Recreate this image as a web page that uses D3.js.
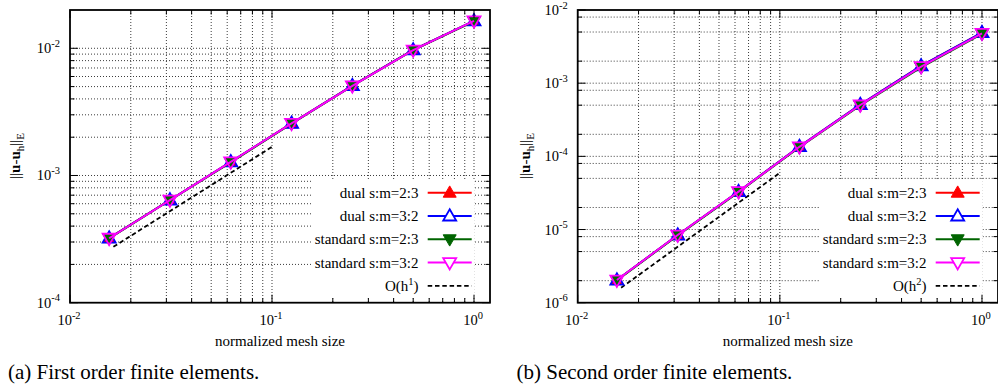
<!DOCTYPE html>
<html>
<head>
<meta charset="utf-8">
<script src="https://cdn.jsdelivr.net/npm/d3@7/dist/d3.min.js"></script>
<style>
  html, body { margin: 0; padding: 0; background: #fff; }
  svg { display: block; }
  text { font-family: "Liberation Serif", "Times New Roman", serif; fill: #000; }
</style>
</head>
<body>
<svg id="chart" width="998" height="388"></svg>
<script>
// ---------------- data ----------------
const meshSizes = [1/64, 1/32, 1/16, 1/8, 1/4, 1/2, 1];
const seriesNames = ["dual s:m=2:3", "dual s:m=3:2", "standard s:m=2:3", "standard s:m=3:2"];
const seriesColors = ["#ff0000", "#0000ff", "#006400", "#ff00ff"];
const seriesMarkers = ["upFilled", "upOpen", "downFilled", "downOpen"];

// (a) first order
const firstDual23     = [3.22e-4, 6.42e-4, 1.28e-3, 2.57e-3, 5.08e-3, 9.70e-3, 1.64e-2];
const firstDual32     = [3.22e-4, 6.42e-4, 1.28e-3, 2.57e-3, 5.08e-3, 9.70e-3, 1.64e-2];
const firstStandard23 = [3.20e-4, 6.40e-4, 1.27e-3, 2.56e-3, 5.06e-3, 9.66e-3, 1.63e-2];
const firstStandard32 = [3.21e-4, 6.41e-4, 1.28e-3, 2.57e-3, 5.07e-3, 9.68e-3, 1.64e-2];
const firstRefH   = [0.0164, 0.1];
const firstRefVal = [2.75e-4, 1.68e-3];

// (b) second order
const secondDual23     = [2.04e-6, 8.40e-6, 3.29e-5, 1.36e-4, 5.10e-4, 1.72e-3, 4.90e-3];
const secondDual32     = [2.04e-6, 8.40e-6, 3.29e-5, 1.36e-4, 5.10e-4, 1.72e-3, 4.90e-3];
const secondStandard23 = [2.02e-6, 8.30e-6, 3.25e-5, 1.33e-4, 4.95e-4, 1.64e-3, 4.70e-3];
const secondStandard32 = [2.04e-6, 8.40e-6, 3.29e-5, 1.35e-4, 5.03e-4, 1.68e-3, 4.80e-3];
const secondRefH   = [0.0164, 0.1];
const secondRefVal = [1.6e-6, 5.95e-5];

// ticks
const xMajorTicks = [0.01, 0.1, 1];
const xTickExponents = ["-2", "-1", "0"];
const xMinorMult = [2, 3, 4, 5, 6, 7, 8, 9];
const firstYMajorTicks = [1e-4, 1e-3, 1e-2];
const firstYTickExponents = ["-4", "-3", "-2"];
const firstYMinorMult = [2, 3, 4, 5, 6, 7, 8, 9];
const secondYMajorTicks = [1e-6, 1e-5, 1e-4, 1e-3, 1e-2];
const secondYTickExponents = ["-6", "-5", "-4", "-3", "-2"];
const secondYMinorMult = [2, 5, 8];

const xDomain = [0.01, 1.2];
const firstYDomain = [1e-4, 2e-2];
const secondYDomain = [1e-6, 1e-2];

const refLabels = ["1", "2"];
const captions = ["(a) First order finite elements.", "(b) Second order finite elements."];
const xAxisTitle = "normalized mesh size";

// ---------------- drawing ----------------
const svg = d3.select("#chart");
svg.append("rect").attr("width", 998).attr("height", 388).attr("fill", "#fff");

function markerPath(kind) {
  if (kind.startsWith("up")) return "M0,-6.8L6.5,4.5L-6.5,4.5Z";
  return "M0,6.8L6.5,-4.5L-6.5,-4.5Z";
}

function drawPanel(cfg) {
  const g = svg.append("g");
  const x = d3.scaleLog().domain(xDomain).range([cfg.left, cfg.right]);
  const y = d3.scaleLog().domain(cfg.yDomain).range([cfg.bottom, cfg.top]);

  // minor positions
  const xMinor = [];
  xMajorTicks.forEach(d => xMinorMult.forEach(m => { const v = d * m; if (v > xDomain[0] && v < xDomain[1]) xMinor.push(v); }));
  const yMinor = [];
  cfg.yMajor.forEach(d => cfg.yMinorMult.forEach(m => { const v = d * m; if (v > cfg.yDomain[0] && v < cfg.yDomain[1]) yMinor.push(v); }));

  const grid = g.append("g").attr("stroke", "#000").attr("stroke-width", 0.9)
    .attr("stroke-dasharray", "1,2").attr("opacity", 0.85);
  xMajorTicks.concat(xMinor).filter(v => v > xDomain[0] && v < xDomain[1]).forEach(v => {
    grid.append("line").attr("x1", x(v)).attr("x2", x(v)).attr("y1", cfg.top).attr("y2", cfg.bottom);
  });
  cfg.yMajor.concat(yMinor).filter(v => v > cfg.yDomain[0] && v < cfg.yDomain[1]).forEach(v => {
    grid.append("line").attr("x1", cfg.left).attr("x2", cfg.right).attr("y1", y(v)).attr("y2", y(v));
  });

  // reference slope line
  const refPts = cfg.refH.map((h, i) => [h, cfg.refVal[i]]);
  g.append("path").datum(refPts)
    .attr("d", d3.line().x(d => x(d[0])).y(d => y(d[1])))
    .attr("fill", "none").attr("stroke", "#000").attr("stroke-width", 1.8)
    .attr("stroke-dasharray", "4.5,2.8");

  // series
  cfg.series.forEach((vals, si) => {
    const pts = meshSizes.map((h, i) => [h, vals[i]]);
    const col = seriesColors[si];
    g.append("path").datum(pts)
      .attr("d", d3.line().x(d => x(d[0])).y(d => y(d[1])))
      .attr("fill", "none").attr("stroke", col).attr("stroke-width", 2);
    const filled = seriesMarkers[si].endsWith("Filled");
    g.selectAll(null).data(pts).enter().append("path")
      .attr("transform", d => `translate(${x(d[0])},${y(d[1])})`)
      .attr("d", markerPath(seriesMarkers[si]))
      .attr("fill", filled ? col : "none")
      .attr("stroke", col).attr("stroke-width", filled ? 1 : 1.8)
      .attr("stroke-linejoin", "miter");
  });

  // legend
  const textRight = cfg.right - 71.5;
  const sampleX1 = cfg.right - 62.3, sampleX2 = cfg.right - 18.3;
  const rowY0 = 192.7, rowDy = 23.3;
  const lg = g.append("g");
  lg.append("rect").attr("x", textRight - 107).attr("y", 180)
    .attr("width", sampleX2 + 3 - (textRight - 107)).attr("height", 118).attr("fill", "#fff");
  seriesNames.forEach((name, si) => {
    const yy = rowY0 + si * rowDy;
    lg.append("text").attr("x", textRight).attr("y", yy + 5).attr("text-anchor", "end")
      .attr("font-size", 15).text(name);
    lg.append("line").attr("x1", sampleX1).attr("x2", sampleX2).attr("y1", yy).attr("y2", yy)
      .attr("stroke", seriesColors[si]).attr("stroke-width", 2);
    const filled = seriesMarkers[si].endsWith("Filled");
    lg.append("path").attr("transform", `translate(${(sampleX1 + sampleX2) / 2},${yy})`)
      .attr("d", markerPath(seriesMarkers[si]))
      .attr("fill", filled ? seriesColors[si] : "#fff")
      .attr("stroke", seriesColors[si]).attr("stroke-width", filled ? 1 : 1.8);
  });
  const refY = rowY0 + 4 * rowDy;
  const rt = lg.append("text").attr("x", textRight).attr("y", refY + 5).attr("text-anchor", "end")
    .attr("font-size", 15);
  rt.append("tspan").text("O(h");
  rt.append("tspan").attr("font-size", 10.5).attr("dy", -6).text(cfg.refLabel);
  rt.append("tspan").attr("dy", 6).text(")");
  lg.append("line").attr("x1", sampleX1).attr("x2", sampleX2).attr("y1", refY).attr("y2", refY)
    .attr("stroke", "#000").attr("stroke-width", 1.8).attr("stroke-dasharray", "4.5,2.8");

  // ticks (all four sides)
  const tk = g.append("g").attr("stroke", "#000").attr("stroke-width", 1);
  const majLen = 8, minLen = 4.5;
  xMajorTicks.filter(v => v >= xDomain[0] && v <= xDomain[1]).forEach(v => {
    tk.append("line").attr("x1", x(v)).attr("x2", x(v)).attr("y1", cfg.bottom).attr("y2", cfg.bottom - majLen);
    tk.append("line").attr("x1", x(v)).attr("x2", x(v)).attr("y1", cfg.top).attr("y2", cfg.top + majLen);
  });
  xMinor.forEach(v => {
    tk.append("line").attr("x1", x(v)).attr("x2", x(v)).attr("y1", cfg.bottom).attr("y2", cfg.bottom - minLen);
    tk.append("line").attr("x1", x(v)).attr("x2", x(v)).attr("y1", cfg.top).attr("y2", cfg.top + minLen);
  });
  cfg.yMajor.forEach(v => {
    tk.append("line").attr("x1", cfg.left).attr("x2", cfg.left + majLen).attr("y1", y(v)).attr("y2", y(v));
    tk.append("line").attr("x1", cfg.right).attr("x2", cfg.right - majLen).attr("y1", y(v)).attr("y2", y(v));
  });
  yMinor.forEach(v => {
    tk.append("line").attr("x1", cfg.left).attr("x2", cfg.left + minLen).attr("y1", y(v)).attr("y2", y(v));
    tk.append("line").attr("x1", cfg.right).attr("x2", cfg.right - minLen).attr("y1", y(v)).attr("y2", y(v));
  });

  // frame
  g.append("rect").attr("x", cfg.left).attr("y", cfg.top)
    .attr("width", cfg.right - cfg.left).attr("height", cfg.bottom - cfg.top)
    .attr("fill", "none").attr("stroke", "#000").attr("stroke-width", 1.8);

  // tick labels
  xMajorTicks.forEach((v, i) => {
    const t = g.append("text").attr("x", x(v) - 1).attr("y", cfg.bottom + 22.5)
      .attr("text-anchor", "middle").attr("font-size", 14.5);
    t.append("tspan").text("10");
    t.append("tspan").attr("font-size", 10.5).attr("dy", -6.5).text(xTickExponents[i].replace("-", "\u2212").replace("\u2212", "-"));
  });
  cfg.yMajor.forEach((v, i) => {
    const t = g.append("text").attr("x", cfg.left - 10).attr("y", y(v) + 5)
      .attr("text-anchor", "end").attr("font-size", 14.5);
    t.append("tspan").text("10");
    t.append("tspan").attr("font-size", 10.5).attr("dy", -6.5).text(cfg.yExp[i]);
  });

  // axis titles
  g.append("text").attr("x", (cfg.left + cfg.right) / 2).attr("y", 345.5)
    .attr("text-anchor", "middle").attr("font-size", 15).text(xAxisTitle);

  const yl = g.append("text").attr("transform", `translate(${cfg.ylabelX},156) rotate(-90)`)
    .attr("text-anchor", "middle").attr("font-size", 15);
  yl.append("tspan").text("||");
  yl.append("tspan").attr("font-weight", "bold").text("u");
  yl.append("tspan").text("-");
  yl.append("tspan").attr("font-weight", "bold").text("u");
  yl.append("tspan").attr("font-size", 11).attr("dy", 4).text("h");
  yl.append("tspan").attr("dy", -4).text("||");
  yl.append("tspan").attr("font-size", 11).attr("dy", 4).text("E");

  // caption
  svg.append("text").attr("x", cfg.captionX).attr("y", 378.5).attr("font-size", 21).text(cfg.caption);
}

drawPanel({
  left: 70, right: 490, top: 10, bottom: 302.7,
  yDomain: firstYDomain, yMajor: firstYMajorTicks, yExp: firstYTickExponents, yMinorMult: firstYMinorMult,
  series: [firstDual23, firstDual32, firstStandard23, firstStandard32],
  refH: firstRefH, refVal: firstRefVal, refLabel: refLabels[0],
  ylabelX: 20, caption: captions[0], captionX: 8
});
drawPanel({
  left: 577.7, right: 998, top: 10, bottom: 302.7,
  yDomain: secondYDomain, yMajor: secondYMajorTicks, yExp: secondYTickExponents, yMinorMult: secondYMinorMult,
  series: [secondDual23, secondDual32, secondStandard23, secondStandard32],
  refH: secondRefH, refVal: secondRefVal, refLabel: refLabels[1],
  ylabelX: 530, caption: captions[1], captionX: 516.5
});
</script>
</body>
</html>
